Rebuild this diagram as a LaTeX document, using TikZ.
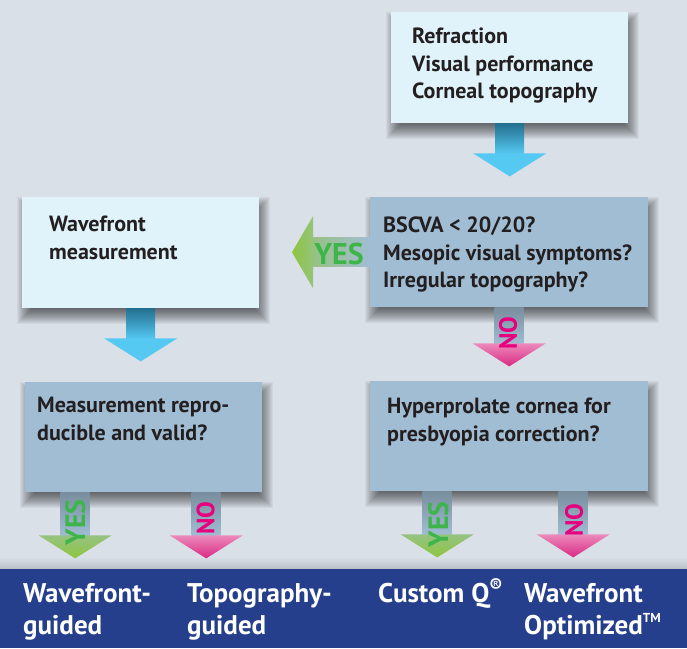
\documentclass[tikz,border=0pt]{standalone}
\usepackage{fontspec}
\setmainfont{PT Sans}
\usetikzlibrary{backgrounds}

\definecolor{bgcol}{HTML}{D9E0E7}
\definecolor{lightfill}{HTML}{E1F3FA}
\definecolor{darkfill}{HTML}{A1BDD3}
\definecolor{barblue}{HTML}{253F8D}
\definecolor{txtcol}{HTML}{231F20}
\definecolor{arrowlight}{HTML}{56C9F2}
\definecolor{arrowdark}{HTML}{236F8F}
\definecolor{yesgreen}{HTML}{8DC63F}
\definecolor{yestext}{HTML}{3DB54A}
\definecolor{nopink}{HTML}{DB2A84}
\definecolor{notext}{HTML}{E6007E}

\tikzset{
  box/.style={rectangle, inner sep=0pt, anchor=north west},
  lightbox/.style={box, fill=lightfill},
  darkbox/.style={box, fill=darkfill},
  boxtext/.style={anchor=north west, align=left, inner sep=0pt, text=txtcol,
    font=\fontsize{22}{27.5}\selectfont\bfseries},
  bartext/.style={anchor=north west, align=left, inner sep=0pt, text=white,
    font=\fontsize{27}{32}\selectfont\bfseries},
  yeslabel/.style={text=yestext, inner sep=0pt, font=\fontsize{28}{28}\selectfont\bfseries},
  nolabel/.style={text=notext, inner sep=0pt, font=\fontsize{25}{25}\selectfont\bfseries},
  pics/downarr/.style n args={5}{code={
    \shade[top color=#1, bottom color=#2] (-14.5,0) rectangle (14.5,#5+0.5);
    \shade[top color=#3, bottom color=#4] (-36.5,#5) -- (36.5,#5) -- (0,#5+23) -- cycle;
  }},
}

% soft shadow under a box
\newcommand\boxshadow[1]{%
  \foreach \r in {0,...,16}
    \fill[black, opacity=0.045] ([shift={(11-\r,16-\r)}]#1.north west) rectangle ([shift={(\r-5,\r)}]#1.south east);
}
% small raised marks
\newcommand\smallmark[3]{\smash{\raisebox{#1}{\fontsize{#2}{#2}\selectfont #3}}}

\begin{document}
\begin{tikzpicture}[x=1pt, y=-1pt]
  \useasboundingbox (0,0) rectangle (687,648);

  % boxes
  \node[lightbox, minimum width=237, minimum height=111] (start) at (391,12) {};
  \node[darkbox, minimum width=278, minimum height=110] (check) at (370,197) {};
  \node[lightbox, minimum width=237, minimum height=111] (wave) at (22,197) {};
  \node[darkbox, minimum width=237, minimum height=110] (valid) at (25,382) {};
  \node[darkbox, minimum width=278, minimum height=110] (prolate) at (370,381) {};
  \node[box, fill=barblue, minimum width=687, minimum height=79] (bar) at (0,569) {};

  \begin{scope}[on background layer]
    \fill[bgcol] (0,0) rectangle (687,648);
    \shade[top color=bgcol, bottom color=bgcol!85!black] (0,557) rectangle (687,569);
    \foreach \b in {start,check,wave,valid,prolate} {\boxshadow{\b}}
  \end{scope}

  % box texts
  \node[boxtext] (starttxt) at ([shift={(21,16)}]start.north west) {Refraction\\Visual performance\\Corneal topography};
  \node[boxtext] (checktxt) at ([shift={(13,20)}]check.north west) {BSCVA < 20/20?\\Mesopic visual symptoms?\\Irregular topography?};
  \node[boxtext] (wavetxt) at ([shift={(27,19)}]wave.north west) {Wavefront\\measurement};
  \node[boxtext] (validtxt) at ([shift={(12,15)}]valid.north west) {Measurement repro-\\ducible and valid?};
  \node[boxtext] (prolatetxt) at ([shift={(17,17)}]prolate.north west) {Hyperprolate cornea for\\presbyopia correction?};

  % arrows
  \pic at (start.south) {downarr={arrowdark}{arrowlight}{arrowlight}{arrowlight}{30}};
  \pic at (wave.south) {downarr={arrowdark}{arrowlight}{arrowlight}{arrowlight}{30}};
  \pic at (check.south) {downarr={darkfill!75!black}{darkfill}{nopink!55!white}{nopink}{36}};
  \pic at ([xshift=-68.5pt]valid.south) {downarr={darkfill!75!black}{darkfill}{yesgreen!55!darkfill}{yesgreen}{43}};
  \pic at ([xshift=62.5pt]valid.south) {downarr={darkfill!75!black}{darkfill}{nopink!55!white}{nopink}{43}};
  \pic at ([xshift=-72pt]prolate.south) {downarr={darkfill!75!black}{darkfill}{yesgreen!55!darkfill}{yesgreen}{43}};
  \pic at ([xshift=64pt]prolate.south) {downarr={darkfill!75!black}{darkfill}{nopink!55!white}{nopink}{43}};
  \shade[left color=yesgreen!55!darkfill, right color=darkfill] ([yshift=14.5pt]check.west) rectangle ++(-58,29);
  \shade[left color=yesgreen, right color=yesgreen!60!darkfill] ([shift={(-57,-36)}]check.west) -- ++(0,72) -- ++(-21,-36) -- cycle;

  % arrow labels
  \node[yeslabel, font=\fontsize{30}{30}\selectfont\bfseries] (yesleft) at ([shift={(-31,2)}]check.west) {YES};
  \node[nolabel, rotate=90] (nocheck) at ([shift={(-1,26)}]check.south) {NO};
  \node[yeslabel, rotate=90] (yesvalid) at ([shift={(-68.5,30)}]valid.south) {YES};
  \node[nolabel, rotate=90] (novalid) at ([shift={(62,26)}]valid.south) {NO};
  \node[yeslabel, rotate=90] (yesprolate) at ([shift={(-71,33)}]prolate.south) {YES};
  \node[nolabel, rotate=90] (noprolate) at ([shift={(65,29)}]prolate.south) {NO};

  % results
  \node[bartext] (res1) at ([shift={(23,14)}]bar.north west) {Wavefront-\\guided};
  \node[bartext] (res2) at ([shift={(187,14)}]bar.north west) {Topography-\\guided};
  \node[bartext] (res3) at ([shift={(378,14)}]bar.north west) {Custom Q\smallmark{10pt}{19}{\textregistered}};
  \node[bartext] (res4) at ([shift={(524,14)}]bar.north west) {Wavefront\\Optimized\smallmark{0.42em}{13}{TM}};
\end{tikzpicture}
\end{document}
